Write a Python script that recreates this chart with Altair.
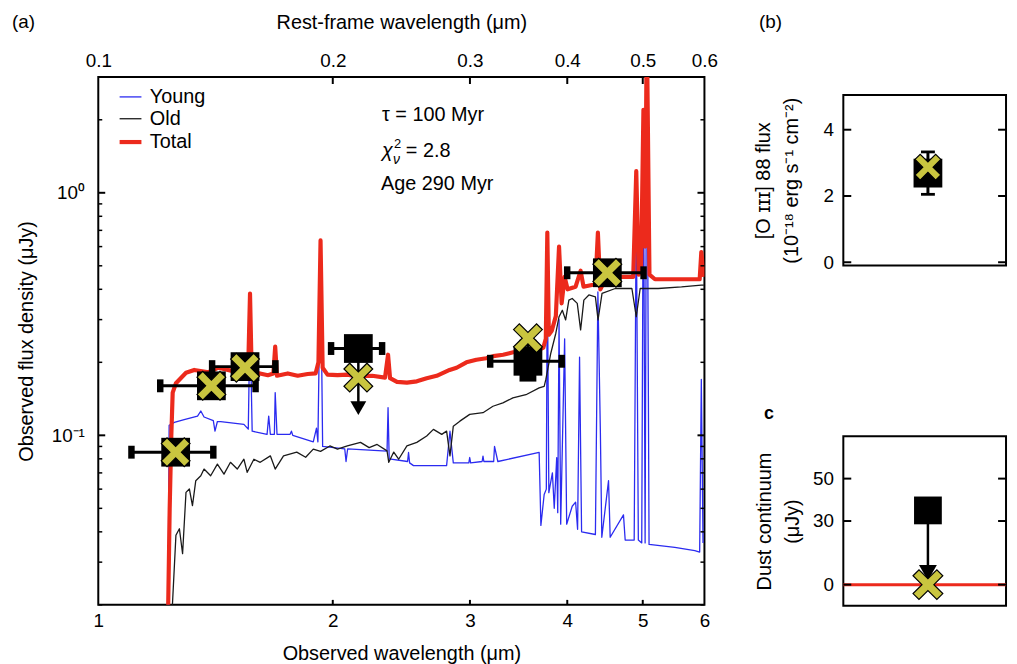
import altair as alt
import pandas as pd

FONT = "Liberation Sans"

# ---------------- spectra (observed wavelength in um, flux density in uJy) -------------
young = [(1.229, 0.018), (1.233, 0.110), (1.252, 0.113), (1.289, 0.116), (1.341, 0.120),
         (1.354, 0.126), (1.367, 0.119), (1.405, 0.115), (1.412, 0.104), (1.422, 0.114),
         (1.436, 0.114), (1.538, 0.111), (1.558, 0.106), (1.566, 0.30), (1.576, 0.104),
         (1.647, 0.101), (1.655, 0.120), (1.663, 0.101), (1.683, 0.101), (1.687, 0.15),
         (1.696, 0.101), (1.763, 0.101), (1.770, 0.104), (1.777, 0.100), (1.888, 0.094),
         (1.906, 0.107), (1.914, 0.094), (1.929, 0.55), (1.941, 0.090), (2.072, 0.088),
         (2.080, 0.078), (2.090, 0.088), (2.348, 0.086), (2.355, 0.13), (2.363, 0.080),
         (2.495, 0.078), (2.502, 0.085), (2.510, 0.077), (2.539, 0.075), (2.800, 0.075),
         (2.828, 0.104), (2.856, 0.077), (2.990, 0.077), (2.998, 0.081), (3.006, 0.077),
         (3.110, 0.078), (3.118, 0.082), (3.126, 0.078), (3.218, 0.078), (3.226, 0.090),
         (3.258, 0.078), (3.681, 0.085), (3.700, 0.0425), (3.736, 0.057), (3.760, 0.060),
         (3.771, 0.52), (3.788, 0.058), (3.828, 0.070), (3.849, 0.050), (3.877, 0.081),
         (3.889, 0.048), (3.904, 0.30), (3.923, 0.043), (3.969, 0.25), (3.993, 0.043),
         (4.059, 0.051), (4.100, 0.053), (4.124, 0.041), (4.148, 0.21), (4.173, 0.040),
         (4.347, 0.039), (4.379, 0.39), (4.411, 0.105), (4.430, 0.038), (4.519, 0.065),
         (4.541, 0.038), (4.723, 0.047), (4.747, 0.037), (4.875, 0.037), (4.905, 0.93),
         (4.935, 0.037), (4.985, 0.036), (5.010, 1.8), (5.035, 0.036), (5.060, 4.5),
         (5.094, 0.0355), (5.497, 0.0345), (5.831, 0.0335), (5.916, 0.033), (5.945, 0.17),
         (5.975, 0.036)]

old = [(1.243, 0.018), (1.258, 0.0387), (1.271, 0.0412), (1.283, 0.0325), (1.296, 0.0582),
       (1.309, 0.0601), (1.321, 0.0513), (1.334, 0.065), (1.354, 0.0681), (1.367, 0.0726),
       (1.394, 0.0681), (1.422, 0.0761), (1.450, 0.0692), (1.478, 0.0774), (1.508, 0.0726),
       (1.538, 0.0797), (1.553, 0.0704), (1.584, 0.0797), (1.614, 0.0774), (1.663, 0.0823),
       (1.687, 0.0726), (1.729, 0.0823), (1.798, 0.0853), (1.846, 0.0812), (1.888, 0.0877),
       (1.929, 0.0859), (1.983, 0.0904), (2.028, 0.0877), (2.088, 0.0904), (2.171, 0.0935),
       (2.227, 0.089), (2.280, 0.0917), (2.348, 0.0863), (2.360, 0.0774), (2.395, 0.0853),
       (2.430, 0.0797), (2.490, 0.0904), (2.564, 0.0935), (2.640, 0.0993), (2.693, 0.1058),
       (2.760, 0.1009), (2.800, 0.1041), (2.828, 0.0823), (2.856, 0.1091), (2.912, 0.1144),
       (2.998, 0.122), (3.118, 0.124), (3.211, 0.1318), (3.307, 0.136), (3.406, 0.1427),
       (3.540, 0.147), (3.681, 0.1568), (3.736, 0.1592), (3.754, 0.1696), (3.810, 0.218),
       (3.867, 0.2636), (3.904, 0.3083), (3.942, 0.328), (3.981, 0.299), (4.019, 0.361),
       (4.059, 0.3667), (4.120, 0.35), (4.161, 0.272), (4.201, 0.361), (4.264, 0.379),
       (4.347, 0.372), (4.381, 0.299), (4.433, 0.3845), (4.610, 0.403), (4.842, 0.403),
       (4.905, 0.3083), (4.962, 0.403), (5.234, 0.403), (5.607, 0.409), (5.945, 0.416),
       (5.99, 0.416)]

total = [(1.229, 0.018), (1.235, 0.05), (1.241, 0.10), (1.246, 0.15), (1.258, 0.164),
         (1.276, 0.172), (1.296, 0.181), (1.328, 0.186), (1.385, 0.182), (1.426, 0.19),
         (1.490, 0.184), (1.534, 0.182), (1.557, 0.180), (1.566, 0.384), (1.574, 0.178),
         (1.613, 0.18), (1.651, 0.177), (1.678, 0.18), (1.687, 0.232), (1.696, 0.176),
         (1.751, 0.18), (1.803, 0.176), (1.857, 0.179), (1.901, 0.18), (1.917, 0.20),
         (1.929, 0.636), (1.941, 0.19), (1.969, 0.178), (2.028, 0.177), (2.088, 0.178),
         (2.150, 0.175), (2.247, 0.176), (2.334, 0.173), (2.355, 0.215), (2.369, 0.172),
         (2.418, 0.166), (2.490, 0.165), (2.564, 0.167), (2.640, 0.172), (2.719, 0.176),
         (2.825, 0.186), (2.884, 0.19), (2.969, 0.20), (3.058, 0.205), (3.148, 0.208),
         (3.214, 0.212), (3.309, 0.215), (3.409, 0.22), (3.540, 0.222), (3.678, 0.225),
         (3.727, 0.23), (3.754, 0.25), (3.771, 0.686), (3.788, 0.26), (3.821, 0.27),
         (3.867, 0.31), (3.904, 0.60), (3.934, 0.35), (3.969, 0.45), (4.004, 0.40),
         (4.100, 0.41), (4.161, 0.477), (4.197, 0.41), (4.347, 0.42), (4.379, 0.686),
         (4.411, 0.40), (4.477, 0.44), (4.610, 0.45), (4.747, 0.45), (4.861, 0.45),
         (4.905, 1.23), (4.940, 0.46), (4.976, 0.50), (5.010, 2.2), (5.035, 0.6),
         (5.060, 5.0), (5.100, 0.46), (5.184, 0.44), (5.497, 0.44), (5.831, 0.44),
         (5.916, 0.44), (5.945, 0.57), (5.99, 0.45)]

# ---------------- photometry -------------
phot_wl = [1.257, 1.397, 1.543, 2.157, 3.561, 4.503]
phot_flux = [0.0852, 0.160, 0.192, 0.228, 0.202, 0.468]
phot_wl_lo = [1.103, 1.201, 1.400, 1.990, 3.185, 3.999]
phot_wl_hi = [1.405, 1.592, 1.688, 2.314, 3.935, 5.012]
model_flux = [0.0852, 0.160, 0.190, 0.173, 0.2515, 0.468]
irac1_err = [0.172, 0.240]
k_limit_end = 0.1296

series_names = ["Young", "Old", "Total"]
series_colors = ["#2b2bf0", "#1a1a1a", "#ec2a1c"]
series_widths = [1.3, 1.3, 4.2]

y_major = [0.1, 1.0]
y_minor = [0.02, 0.03, 0.04, 0.05, 0.06, 0.07, 0.08, 0.09,
           0.2, 0.3, 0.4, 0.5, 0.6, 0.7, 0.8, 0.9, 2.0]
x_ticks = [2, 3, 4, 5]
x_labels = [1, 2, 3, 4, 5, 6]

# panel b / c
oiii_obs = 2.69
oiii_err = [2.05, 3.33]
oiii_model = 2.87
dust_obs = 35
dust_model = 0
dust_arrow_end = 5.6
panel_x = 0.52
b_ticks = [0, 2, 4]
c_ticks = [0, 30, 50]

CROSS_YELLOW = "#c9c53f"
X_PATH = "M-1,-0.6L-0.6,-1L0,-0.4L0.6,-1L1,-0.6L0.4,0L1,0.6L0.6,1L0,0.4L-0.6,1L-1,0.6L-0.4,0Z"
CAP_PATH = "M-0.5,-1L0.5,-1L0.5,1L-0.5,1Z"
HCAP_PATH = "M-1,-0.4L1,-0.4L1,0.4L-1,0.4Z"
THIN_CAP = "M-1,-0.2L1,-0.2L1,0.2L-1,0.2Z"

W, H = 611, 532
PW, PH_B, PH_C = 164, 172, 171

xs = alt.Scale(type="log", domain=[1, 6], nice=False)
ys = alt.Scale(type="log", domain=[0.02, 3], nice=False)
cscale = alt.Scale(domain=series_names, range=series_colors)
swscale = alt.Scale(type="ordinal", domain=series_names, range=series_widths)

leg = alt.Legend(title=None, orient="none", legendX=19, legendY=8, symbolType="stroke",
                 symbolSize=484, labelFontSize=20, labelFont=FONT, labelOffset=6,
                 rowPadding=0, padding=0, labelColor="black")

axis_common = dict(ticks=False, tickSize=0, domain=False, grid=False, labelFlush=False,
                   labelOverlap=False, labelFontSize=19, titleFontSize=20,
                   labelFont=FONT, titleFont=FONT, titleFontWeight="normal",
                   labelColor="black", titleColor="black")

x_bottom = alt.Axis(orient="bottom", values=x_labels, labelExpr="format(datum.value, 'd')",
                    title="Observed wavelength (μm)", labelPadding=7, titlePadding=13,
                    **axis_common)
x_top = alt.Axis(orient="top", values=x_labels, labelExpr="format(datum.value / 10, '.1f')",
                 title="Rest-frame wavelength (μm)", labelPadding=7, titlePadding=19,
                 **axis_common)
y_left = alt.Axis(orient="left", values=y_major,
                  labelExpr="datum.value >= 1 ? '10⁰' : '10⁻¹'",
                  title="Observed flux density (μJy)", labelPadding=14, titlePadding=15,
                  **axis_common)


def spec_df(pairs, name):
    return pd.DataFrame({"wl": [p[0] for p in pairs], "flux": [p[1] for p in pairs],
                         "series": name})


def line_layer(pairs, name, xaxis=None):
    return alt.Chart(spec_df(pairs, name)).mark_line(clip=True, strokeJoin="round").encode(
        x=alt.X("wl:Q", scale=xs, axis=xaxis),
        y=alt.Y("flux:Q", scale=ys, axis=y_left),
        color=alt.Color("series:N", scale=cscale, legend=leg),
        strokeWidth=alt.StrokeWidth("series:N", scale=swscale, legend=leg),
    )


one = pd.DataFrame({"a": [0]})


def ytick_layer(vals, scale, axis, x0, x1, sw):
    return alt.Chart(pd.DataFrame({"v": vals})).mark_rule(color="black", strokeWidth=sw).encode(
        y=alt.Y("v:Q", scale=scale, axis=axis), x=alt.value(x0), x2=alt.value(x1))


def xtick_layer(vals, y0, y1, sw):
    return alt.Chart(pd.DataFrame({"v": vals})).mark_rule(color="black", strokeWidth=sw).encode(
        x=alt.X("v:Q", scale=xs, axis=None), y=alt.value(y0), y2=alt.value(y1))


def label(text, x, y, size=20, align="left", weight="normal", style="normal"):
    return alt.Chart(one).mark_text(text=text, font=FONT, fontSize=size, align=align,
                                    baseline="middle", color="black", fontWeight=weight,
                                    fontStyle=style).encode(x=alt.value(x), y=alt.value(y))


phot_df = pd.DataFrame({"wl": phot_wl, "flux": phot_flux, "lo": phot_wl_lo,
                        "hi": phot_wl_hi, "model": model_flux})
cap_df = pd.DataFrame({"wl": phot_wl_lo + phot_wl_hi, "flux": phot_flux + phot_flux})
irac_df = pd.DataFrame({"wl": [phot_wl[4]], "lo": [irac1_err[0]], "hi": [irac1_err[1]]})
irac_cap_df = pd.DataFrame({"wl": [phot_wl[4]] * 2, "flux": irac1_err})
klim_df = pd.DataFrame({"wl": [phot_wl[3]], "flux": [phot_flux[3]], "end": [k_limit_end * 1.03],
                        "head": [k_limit_end]})


def Y(field):
    return alt.Y(field, scale=ys, axis=y_left)


def X(field):
    return alt.X(field, scale=xs, axis=None)


layers = [
    line_layer(young, "Young", xaxis=x_bottom),
    line_layer(old, "Old", xaxis=x_top),
    line_layer(total, "Total"),
    ytick_layer(y_major, ys, y_left, 0, 7, 2),
    ytick_layer(y_minor, ys, y_left, 0, 4, 1.5),
    ytick_layer(y_major, ys, y_left, W, W - 7, 2),
    ytick_layer(y_minor, ys, y_left, W, W - 4, 1.5),
    xtick_layer(x_ticks, 0, 7, 2),
    xtick_layer(x_ticks, H, H - 5, 2),
    alt.Chart(phot_df).mark_rule(color="black", strokeWidth=3).encode(
        x=X("lo:Q"), x2="hi:Q", y=Y("flux:Q")),
    alt.Chart(cap_df).mark_point(shape=CAP_PATH, filled=True, color="black", size=169,
                                 opacity=1).encode(x=X("wl:Q"), y=Y("flux:Q")),
    alt.Chart(irac_df).mark_rule(color="black", strokeWidth=3).encode(
        x=X("wl:Q"), y=Y("lo:Q"), y2="hi:Q"),
    alt.Chart(irac_cap_df).mark_point(shape=HCAP_PATH, filled=True, color="black", size=289,
                                      opacity=1).encode(x=X("wl:Q"), y=Y("flux:Q")),
    alt.Chart(klim_df).mark_rule(color="black", strokeWidth=2.5).encode(
        x=X("wl:Q"), y=Y("flux:Q"), y2="end:Q"),
    alt.Chart(klim_df).mark_point(shape="triangle-down", filled=True, color="black", size=256,
                                  opacity=1).encode(x=X("wl:Q"), y=Y("head:Q")),
    alt.Chart(phot_df).mark_square(color="black", size=841, opacity=1).encode(
        x=X("wl:Q"), y=Y("flux:Q")),
    alt.Chart(phot_df).mark_point(shape=X_PATH, filled=True, fill=CROSS_YELLOW, stroke="black",
                                  strokeWidth=1.2, size=841, opacity=1).encode(
        x=X("wl:Q"), y=Y("model:Q")),
    label("τ = 100 Myr", 286, 38),
    label("χ", 286, 75, style="italic"),
    label("2", 298, 68, size=13),
    label("ν", 297, 84, size=14, style="italic"),
    label("= 2.8", 310, 75),
    label("Age 290 Myr", 285, 108),
    label("(a)", -87, -55, size=19),
]

main = alt.layer(*layers).properties(
    width=W, height=H, view=alt.ViewBackground(stroke="black", strokeWidth=2))

# ---------------- panel b -------------
pxs = alt.Scale(domain=[0, 1])
bys = alt.Scale(domain=[-0.1, 5.05], nice=False, zero=False)
b_df = pd.DataFrame({"x": [panel_x], "obs": [oiii_obs], "lo": [oiii_err[0]],
                     "hi": [oiii_err[1]], "model": [oiii_model]})
b_cap = pd.DataFrame({"x": [panel_x] * 2, "v": oiii_err})
b_axis = alt.Axis(values=b_ticks, title=["[O ɪɪɪ] 88 flux", "(10⁻¹⁸ erg s⁻¹ cm⁻²)"],
                  labelPadding=10, titlePadding=22, titleLineHeight=28, **axis_common)
BX = alt.X("x:Q", scale=pxs, axis=None)
panel_b = alt.layer(
    ytick_layer(b_ticks, bys, b_axis, 0, 8, 2),
    ytick_layer(b_ticks, bys, b_axis, PW, PW - 8, 2),
    alt.Chart(b_df).mark_rule(color="black", strokeWidth=3).encode(
        x=BX, y=alt.Y("lo:Q", scale=bys, axis=b_axis), y2="hi:Q"),
    alt.Chart(b_cap).mark_point(shape=THIN_CAP, filled=True, color="black", size=196,
                                opacity=1).encode(x=BX, y=alt.Y("v:Q", scale=bys, axis=b_axis)),
    alt.Chart(b_df).mark_square(color="black", size=841, opacity=1).encode(
        x=BX, y=alt.Y("obs:Q", scale=bys, axis=b_axis)),
    alt.Chart(b_df).mark_point(shape=X_PATH, filled=True, fill=CROSS_YELLOW, stroke="black",
                               strokeWidth=1.2, size=676, opacity=1).encode(
        x=BX, y=alt.Y("model:Q", scale=bys, axis=b_axis)),
    label("(b)", -85, -73, size=19),
).properties(width=PW, height=PH_B, view=alt.ViewBackground(stroke="black", strokeWidth=2))

# ---------------- panel c -------------
cys = alt.Scale(domain=[-10, 70], nice=False, zero=False)
c_df = pd.DataFrame({"x": [panel_x], "obs": [dust_obs], "model": [dust_model],
                     "end": [dust_arrow_end + 2], "head": [dust_arrow_end]})
c_axis = alt.Axis(values=c_ticks, title=["Dust continuum", "(μJy)"],
                  labelPadding=10, titlePadding=10, titleLineHeight=28, **axis_common)
panel_c = alt.layer(
    alt.Chart(pd.DataFrame({"v": [dust_model]})).mark_rule(color="#ec2a1c", strokeWidth=3).encode(
        y=alt.Y("v:Q", scale=cys, axis=c_axis), x=alt.value(0), x2=alt.value(PW)),
    ytick_layer(c_ticks, cys, c_axis, 0, 8, 2),
    ytick_layer(c_ticks, cys, c_axis, PW, PW - 8, 2),
    alt.Chart(c_df).mark_rule(color="black", strokeWidth=2.5).encode(
        x=BX, y=alt.Y("obs:Q", scale=cys, axis=c_axis), y2="end:Q"),
    alt.Chart(c_df).mark_point(shape="triangle-down", filled=True, color="black", size=324,
                               opacity=1).encode(x=BX, y=alt.Y("head:Q", scale=cys, axis=c_axis)),
    alt.Chart(c_df).mark_square(color="black", size=784, opacity=1).encode(
        x=BX, y=alt.Y("obs:Q", scale=cys, axis=c_axis)),
    alt.Chart(c_df).mark_point(shape=X_PATH, filled=True, fill=CROSS_YELLOW, stroke="black",
                               strokeWidth=1.2, size=900, opacity=1).encode(
        x=BX, y=alt.Y("model:Q", scale=cys, axis=c_axis)),
    label("c", -80, -22, size=18, weight="bold"),
).properties(width=PW, height=PH_C, view=alt.ViewBackground(stroke="black", strokeWidth=2))

spacer = alt.Chart(one).mark_point(opacity=0).encode(
    x=alt.X("a:Q", axis=None), y=alt.Y("a:Q", axis=None)
).properties(width=PW, height=18, view=alt.ViewBackground(stroke=None))

right = alt.vconcat(spacer, alt.vconcat(panel_b, panel_c, spacing=172, bounds="flush"),
                    spacing=0, bounds="flush")

# main plot area sits at page (99, 75); the page has an 8 px margin
chart = alt.hconcat(main, right, spacing=140, bounds="flush").properties(
    autosize=alt.AutoSizeParams(type="none"),
    padding={"left": 91, "top": 67, "right": 918, "bottom": 589},
).configure(font=FONT).configure_view(stroke=None)

chart.save("out.html", embed_options={"renderer": "svg", "actions": False})
